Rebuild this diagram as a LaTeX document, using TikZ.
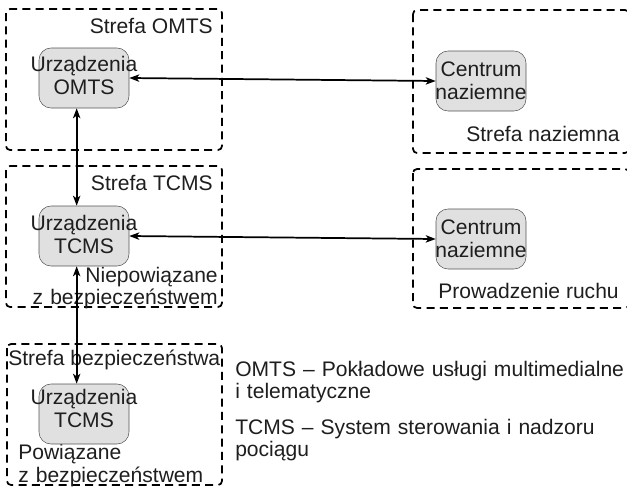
\documentclass[tikz,border=0pt]{standalone}
\usepackage{fontspec}
\setmainfont{Liberation Sans}
\usepackage{tikz}
\usetikzlibrary{arrows.meta,positioning}

\definecolor{devfill}{HTML}{E0E0E0}
\definecolor{devdraw}{HTML}{555555}
\definecolor{txt}{HTML}{1E1E1E}

\begin{document}
\begin{tikzpicture}[
    x=0.75pt, y=-0.75pt,
    every node/.style={font=\fontsize{15.8pt}{17.2pt}\selectfont, text=txt, inner sep=0pt},
    zone/.style={draw, line width=1.3pt, dash pattern=on 6pt off 4pt, rounded corners=3pt},
    device/.style={rectangle, draw=devdraw, fill=devfill, rounded corners=9pt, minimum width=67.5pt, minimum height=45pt},
    devtext/.style={text width=95pt, align=center},
    note/.style={text width=300pt, align=left},
    arrow/.style={line width=1.3pt,<->,>={Stealth[length=7.5pt,width=5.5pt,inset=2pt]}}
]
\clip (0,0) rectangle (627,493);

% Zones
\draw[zone] (6,9) rectangle (222,150);
\draw[zone] (413,10) rectangle (629,153);
\draw[zone] (6,166) rectangle (222,307);
\draw[zone] (413,169) rectangle (629,308);
\draw[zone] (7,344) rectangle (222,485);

% Zone labels
\node[anchor=base east] (omtszone) at (213,33) {Strefa OMTS};
\node[anchor=base east] (groundzone) at (620,141) {Strefa naziemna};
\node[anchor=base east] (tcmszone) at (213,190) {Strefa TCMS};
\node[anchor=north east, text width=150pt, align=right] (nonsafe) at (218,266.5) {Niepowiązane\\z bezpieczeństwem};
\node[anchor=base east] (trafficzone) at (619,298) {Prowadzenie ruchu};
\node[anchor=base west] (safezone) at (8,365.5) {Strefa bezpieczeństwa};
\node[anchor=north west, text width=150pt, align=left] (safe) at (18,444) {Powiązane\\z bezpieczeństwem};

% Devices
\node[device, label={[devtext, yshift=2pt]center:Urządzenia\\OMTS}] (omts) at (84,78) {};
\node[device, label={[devtext]center:Centrum\\naziemne}] (ground) at (481,81) {};
\node[device, label={[devtext, yshift=1.5pt]center:Urządzenia\\TCMS}] (tcms) at (84,236) {};
\node[device, label={[devtext]center:Centrum\\naziemne}] (traffic) at (481,239) {};
\node[device, label={[devtext, yshift=4pt]center:Urządzenia\\TCMS}] (safetcms) at (84,414) {};

% Legend
\node[note, anchor=north west] (omtsdef) at (235,360.5) {OMTS – Pokładowe usługi multimedialne\\i telematyczne};
\node[note, anchor=north west] (tcmsdef) at (235,418.5) {TCMS – System sterowania i nadzoru\\pociągu};

% Arrows
\draw[arrow] (omts.east) -- (ground.west);
\draw[arrow] (tcms.east) -- (traffic.west);
\draw[arrow] ([xshift=-5.5pt]omts.south) -- ([xshift=-5.5pt]tcms.north);
\draw[arrow] ([xshift=-5.5pt]tcms.south) -- ([xshift=-5.5pt]safetcms.north);
\end{tikzpicture}
\end{document}
